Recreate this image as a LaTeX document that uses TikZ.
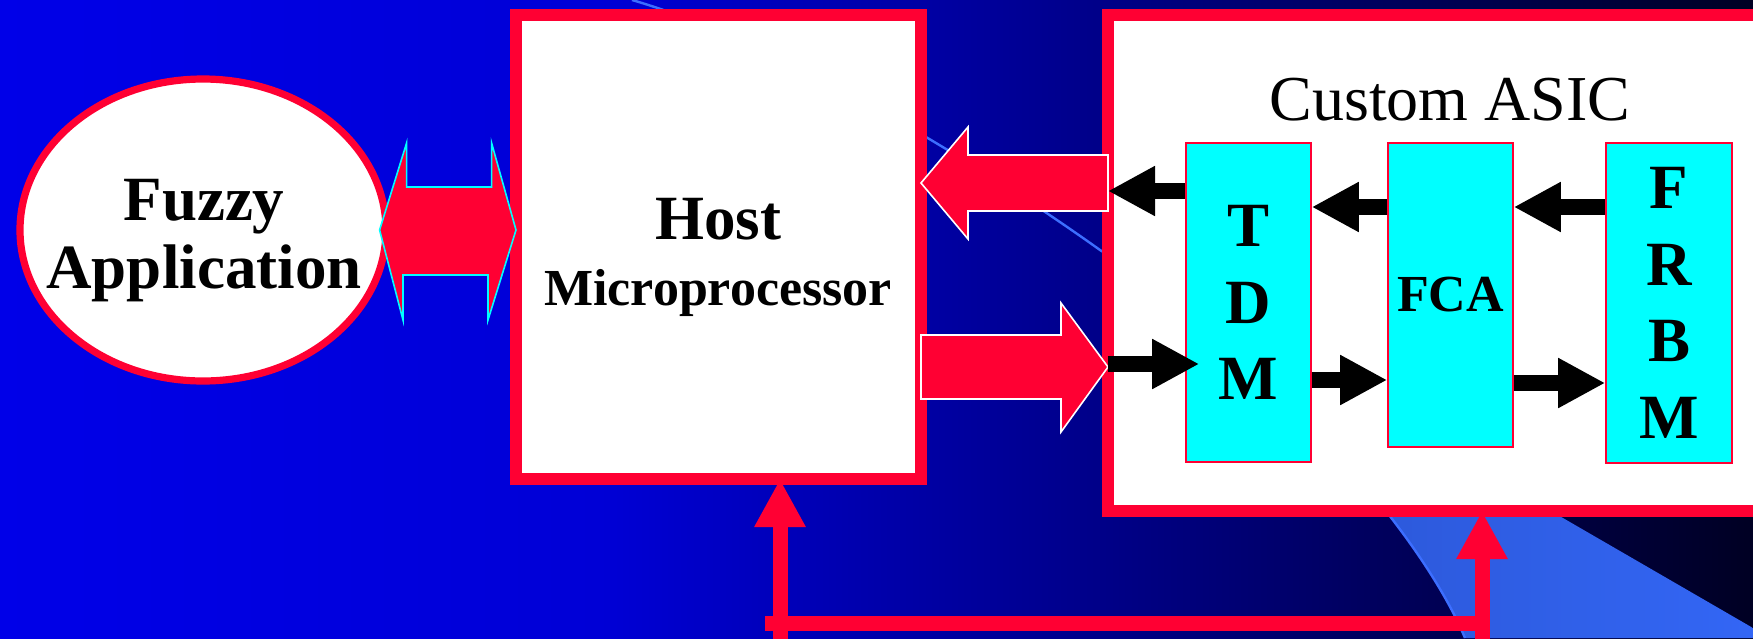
\documentclass[tikz,border=0pt]{standalone}
\usepackage{fontspec}
\setmainfont{Liberation Serif}
\usetikzlibrary{arrows.meta,shapes.geometric}

\definecolor{slidered}{RGB}{255,0,51}
\definecolor{slideaqua}{RGB}{0,255,255}
\definecolor{bgleft}{RGB}{0,0,232}
\definecolor{bgmid}{RGB}{0,0,214}
\definecolor{bgright}{RGB}{0,0,35}
\definecolor{swooshA}{RGB}{40,80,200}
\definecolor{swooshB}{RGB}{51,102,245}
\definecolor{swooshline}{RGB}{60,110,255}

\tikzset{
  frame/.style={draw=slidered,line width=6pt,fill=white,outer sep=0pt,inner sep=0pt},
  block/.style={draw=slidered,line width=0.8pt,fill=slideaqua,align=center,inner sep=0pt,
    font=\bfseries\fontsize{31.5}{38.3}\selectfont},
  bigarrow/.style={fill=slidered,draw=white,line width=0.8pt,line join=miter},
  dblarrow/.style={bigarrow,draw=slideaqua},
  blkarrow/.style={line width=8pt,-{Triangle[length=23.5pt,width=23.5pt]}},
  busline/.style={draw=slidered,line width=7.5pt},
  busarrow/.style={busline,-{Triangle[length=24pt,width=24pt]}},
  bigtext/.style={font=\bfseries\fontsize{31.5}{34}\selectfont,anchor=base,inner sep=0pt},
}

\begin{document}
\begin{tikzpicture}[x=0.5pt,y=-0.5pt]
  \useasboundingbox (0,0) rectangle (1753,638);
  \clip (0,0) rectangle (1753,638);

  % slide backdrop
  \shade[left color=bgleft,right color=bgmid] (0,0) rectangle (601,638);
  \shade[left color=bgmid,right color=bgright] (600,0) rectangle (1753,638);
  \shade[left color=swooshA,right color=swooshB] (1100,250) .. controls (1270,360) and (1420,530) .. (1465,638)
    -- (1753,638) -- (1753,628) -- cycle;
  \draw[swooshline,line width=1.2pt] (632,0) .. controls (770,40) and (960,150) .. (1100,250)
    .. controls (1270,360) and (1420,530) .. (1465,638);

  % left part
  \node[ellipse,draw=slidered,line width=3.6pt,fill=white,minimum width=183pt,minimum height=151pt,inner sep=0pt] (fuzzy) at (203,230) {};
  \node[bigtext] (fuzzytxt) at (204,220) {Fuzzy};
  \node[bigtext] (apptxt) at (204,288) {Application};

  \node[frame,minimum width=202.5pt,minimum height=232pt] (host) at (718.5,247) {};
  \node[bigtext] (hosttxt) at (718,239) {Host};
  \node[bigtext,font=\bfseries\fontsize{26}{30}\selectfont] (microtxt) at (718,305) {Microprocessor};

  % the chip
  \node[frame,minimum width=352pt,minimum height=248pt] (asic) at (1460,263) {};
  \node[anchor=base,inner sep=0pt,font=\fontsize{32}{38}\selectfont] (asictxt) at (1450,120) {Custom ASIC};

  \node[block,minimum width=62.5pt,minimum height=159.5pt] (tdm) at (1248.5,302.5) {T\\D\\M};
  \node[block,minimum width=62.5pt,minimum height=152pt,font=\bfseries\fontsize{26}{30}\selectfont] (fca) at (1450.5,295) {FCA};
  \node[block,minimum width=63pt,minimum height=160pt] (frbm) at (1669,303) {F\\R\\B\\M};

  % fat arrows
  \draw[dblarrow] ([xshift=-5pt]fuzzy.east) -- ++(27,-87) -- ++(0,44) -- ++(85,0) -- ++(0,-44)
    -- (host.west |- fuzzy.east) -- ++(-28,90) -- ++(0,-45) -- ++(-85,0) -- ++(0,45) -- cycle;
  \draw[bigarrow] (host.east |- 0,183) -- ++(47,-56) -- ++(0,28) -- (asic.west |- 0,155)
    -- (asic.west |- 0,211) -- ++(-140,0) -- ++(0,28) -- cycle;
  \draw[bigarrow] (host.east |- 0,335) -- ++(140,0) -- ++(0,-32) -- (asic.west |- 0,367)
    -- ++(-47,65) -- ++(0,-33) -- (host.east |- 0,399) -- cycle;

  % data paths inside the chip
  \coordinate (tdmin) at ([xshift=7pt]tdm.west);
  \draw[blkarrow] (tdm.west |- 0,191) -- (asic.west |- 0,191);
  \draw[blkarrow] (fca.west |- 0,207) -- (tdm.east |- 0,207);
  \draw[blkarrow] (frbm.west |- 0,207) -- (fca.east |- 0,207);
  \draw[blkarrow] (asic.west |- 0,364) -- (tdmin |- 0,364);
  \draw[blkarrow] (tdm.east |- 0,380) -- (fca.west |- 0,380);
  \draw[blkarrow] (fca.east |- 0,383) -- (frbm.west |- 0,383);

  % bus at the bottom
  \coordinate (busstart) at (765,623);
  \coordinate (hostfeed) at (780,650);
  \coordinate (asicfeed) at (1482,650);
  \draw[busline] (busstart) -- (asicfeed |- busstart);
  \draw[busarrow] (hostfeed) -- (hostfeed |- host.south);
  \draw[busarrow] (asicfeed) -- (asicfeed |- asic.south);
\end{tikzpicture}
\end{document}
